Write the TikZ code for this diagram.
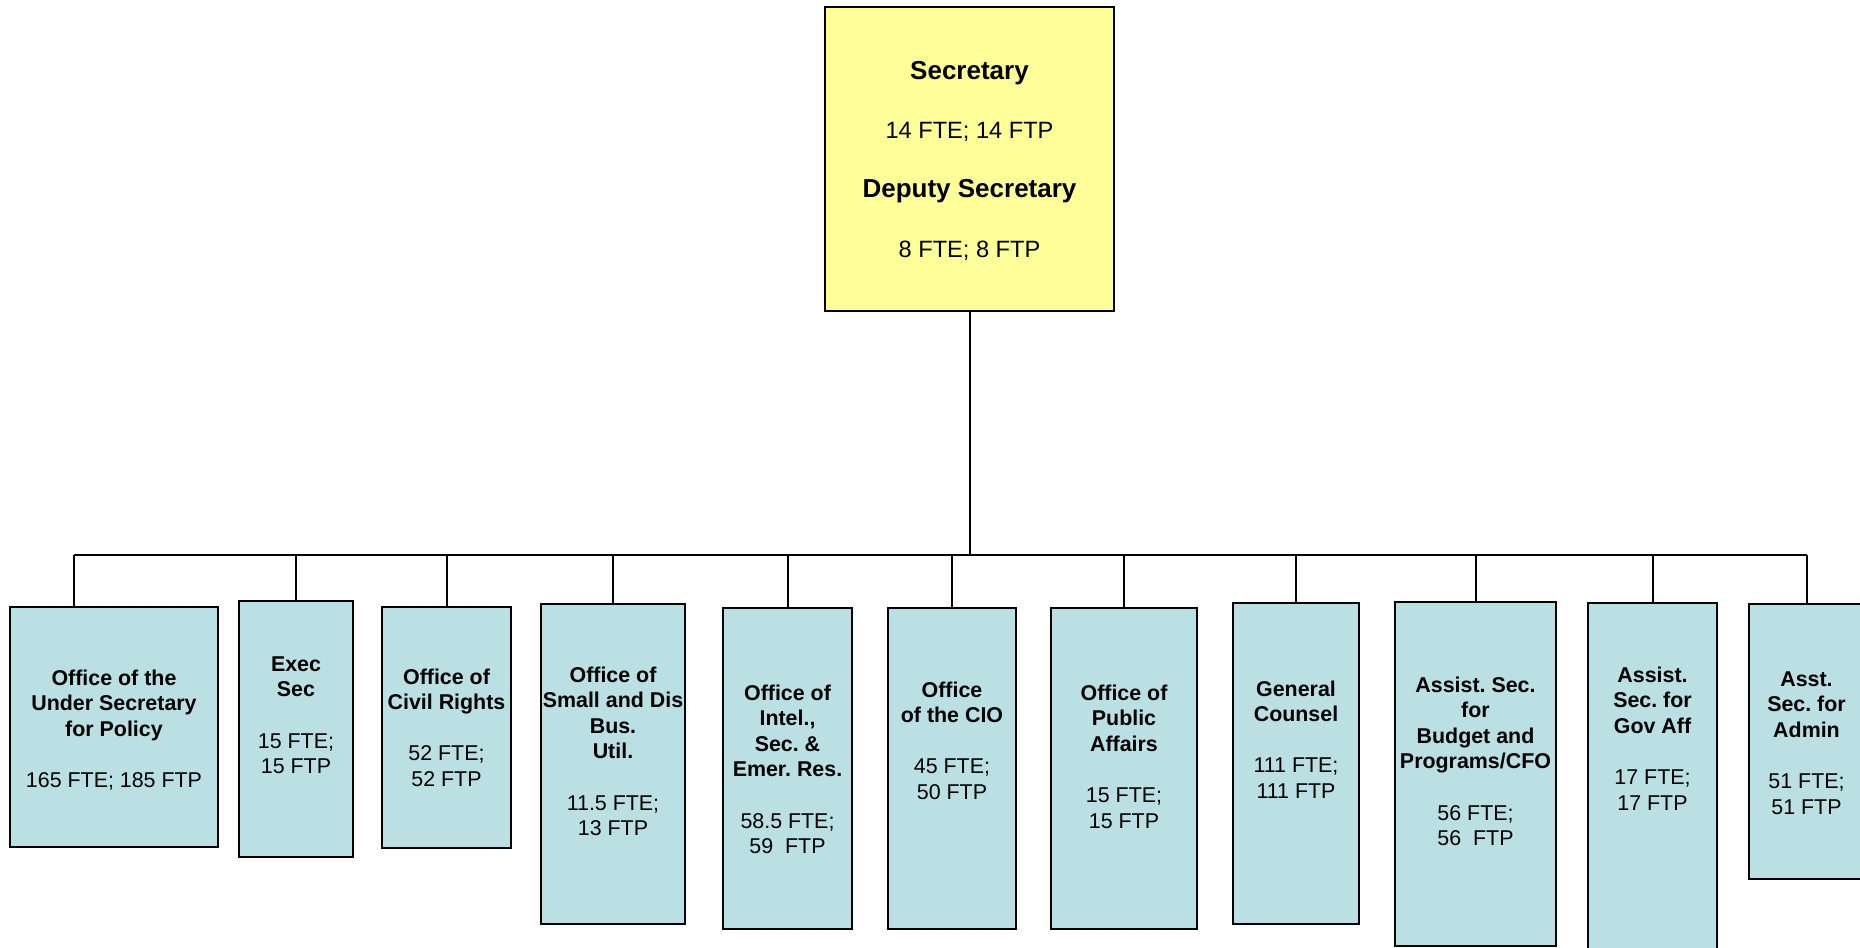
\documentclass[tikz,border=0pt]{standalone}
\usepackage{fontspec}
\setmainfont{Liberation Sans}
\frenchspacing
\definecolor{topyellow}{RGB}{255,255,153}
\definecolor{unitblue}{RGB}{187,224,227}
\tikzset{
	unit/.style={draw, line width=0.9pt, fill=unitblue, inner sep=0pt},
	unittext/.style={anchor=north, inner sep=0pt, align=center, font=\fontsize{10.7}{12.8}\selectfont\bfseries},
	link/.style={line width=1pt}
}
\begin{document}
\begin{tikzpicture}[x=0.5pt, y=-0.5pt]
		\useasboundingbox (0,0) rectangle (1860,948);

		\node[draw, line width=1pt, fill=topyellow, minimum width=144.5pt, minimum height=152pt, label={[anchor=north, inner sep=0pt, align=center, font=\fontsize{13}{29.6}\selectfont\bfseries, yshift=-27.5pt]north:{Secretary\\\textmd{\fontsize{11.8}{29.6}\selectfont 14 FTE; 14 FTP}\\Deputy Secretary\\\textmd{\fontsize{11.8}{29.6}\selectfont 8 FTE; 8 FTP}}}] (secretary) at (969.5,159) {};

		\node[unit, minimum width=104pt, minimum height=120pt, label={[unittext, yshift=-31.5pt]north:{Office of the\\Under Secretary\\for Policy\\[12.8pt]\textmd{165 FTE; 185 FTP}}}] (policy) at (114,727) {};
		\node[unit, minimum width=57pt, minimum height=128pt, label={[unittext, yshift=-28pt]north:{Exec\\Sec\\[12.8pt]\textmd{15 FTE;}\\\textmd{15 FTP}}}] (execsec) at (296,729) {};
		\node[unit, minimum width=64.5pt, minimum height=120.5pt, label={[unittext, yshift=-31pt]north:{Office of\\Civil Rights\\[12.8pt]\textmd{52 FTE;}\\\textmd{52 FTP}}}] (civilrights) at (446.5,727.5) {};
		\node[unit, minimum width=72pt, minimum height=160pt, label={[unittext, yshift=-31.5pt]north:{Office of\\Small and Dis\\Bus.\\Util.\\[12.8pt]\textmd{11.5 FTE;}\\\textmd{13 FTP}}}] (smallbus) at (613,764) {};
		\node[unit, minimum width=64.5pt, minimum height=160.5pt, label={[unittext, yshift=-38.5pt]north:{Office of\\Intel.,\\Sec. \&\\Emer. Res.\\[12.8pt]\textmd{58.5 FTE;}\\\textmd{59\ \ FTP}}}] (intel) at (787.5,768.5) {};
		\node[unit, minimum width=64pt, minimum height=160.5pt, label={[unittext, yshift=-37pt]north:{Office\\of the CIO\\[12.8pt]\textmd{45 FTE;}\\\textmd{50 FTP}}}] (cio) at (952,768.5) {};
		\node[unit, minimum width=73pt, minimum height=160.5pt, label={[unittext, yshift=-38.5pt]north:{Office of\\Public\\Affairs\\[12.8pt]\textmd{15 FTE;}\\\textmd{15 FTP}}}] (publicaff) at (1124,768.5) {};
		\node[unit, minimum width=63pt, minimum height=160.5pt, label={[unittext, yshift=-39pt]north:{General\\Counsel\\[12.8pt]\textmd{111 FTE;}\\\textmd{111 FTP}}}] (counsel) at (1296,763.5) {};
		\node[unit, minimum width=80.5pt, minimum height=172pt, label={[unittext, yshift=-37.5pt]north:{Assist. Sec.\\for\\Budget and\\Programs/CFO\\[12.8pt]\textmd{56 FTE;}\\\textmd{56\ \ FTP}}}] (cfo) at (1475.5,774) {};
		\node[unit, minimum width=64.5pt, minimum height=181pt, label={[unittext, yshift=-32pt]north:{Assist.\\Sec. for\\Gov Aff\\[12.8pt]\textmd{17 FTE;}\\\textmd{17 FTP}}}] (govaff) at (1652.5,784) {};
		\node[unit, minimum width=57.5pt, minimum height=137.5pt, label={[unittext, yshift=-34pt]north:{Asst.\\Sec. for\\Admin\\[12.8pt]\textmd{51 FTE;}\\\textmd{51 FTP}}}] (admin) at (1806.5,741.5) {};

		\coordinate (busleft) at (73.5,555);
		\coordinate (busright) at (1806.5,555);
		\draw[link] (busleft) -- (busright);
		\draw[link] (secretary.south) -- (secretary.south |- busleft);
		\draw[link] (busleft) -- (busleft |- policy.north);
		\foreach \u in {execsec,civilrights,smallbus,intel,cio,publicaff,counsel,cfo,govaff,admin}
			\draw[link] (\u.north) -- (\u.north |- busleft);
	\end{tikzpicture}
\end{document}
